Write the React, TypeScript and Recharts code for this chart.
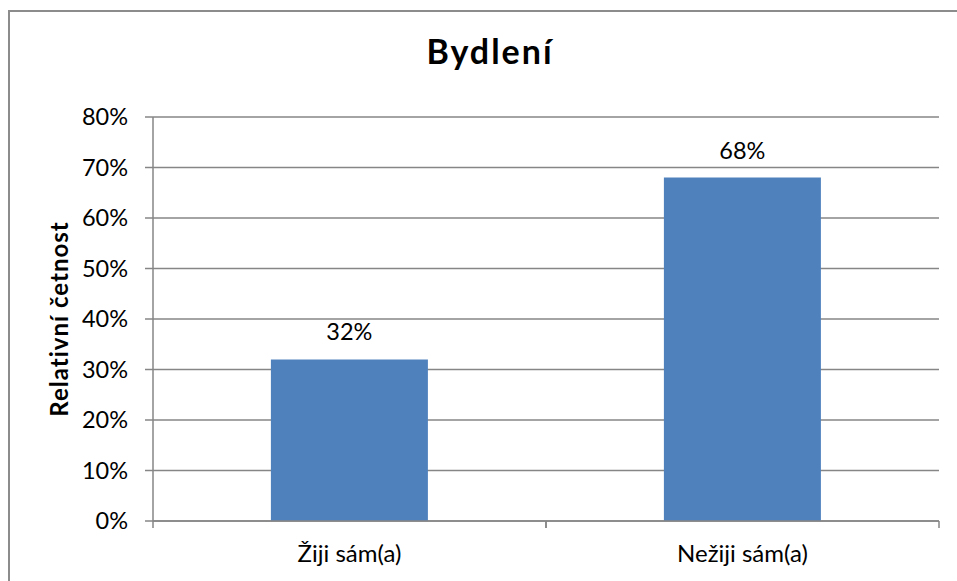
import React from "react";
import { BarChart, Bar, XAxis, YAxis, CartesianGrid, LabelList } from "recharts";

const categories = ["Žiji sám(a)", "Nežiji sám(a)"];
const shares = [0.32, 0.68];
const yTicks = [0, 0.1, 0.2, 0.3, 0.4, 0.5, 0.6, 0.7, 0.8];
const title = "Bydlení";
const yLabel = "Relativní četnost";

const data = categories.map((name, i) => ({ name, value: shares[i] }));

const W = 957;
const H = 581;
const MARGIN = { top: 117, right: 18, bottom: 0, left: 0 };
const YAXIS_W = 153;
const XAXIS_H = 60;
const HALF_BAND = (W - MARGIN.left - YAXIS_W - MARGIN.right) / categories.length / 2;
const AXIS_COLOR = "#868686";
const FONT = "Lato, 'Open Sans', sans-serif";

const pct = (v: number) => `${Math.round(v * 100)}%`;

const XTick = (props: any) => {
  const { x, y, payload } = props;
  return (
    <g>
      <line x1={x - HALF_BAND} x2={x - HALF_BAND} y1={y} y2={y + 7} stroke={AXIS_COLOR} strokeWidth={1.5} />
      <line x1={x + HALF_BAND} x2={x + HALF_BAND} y1={y} y2={y + 7} stroke={AXIS_COLOR} strokeWidth={1.5} />
      <text x={x} y={y + 41} textAnchor="middle" fontFamily={FONT} fontSize={24} fill="#000">
        {payload.value}
      </text>
    </g>
  );
};

const YLabel = (props: any) => {
  const vb = props.viewBox || {};
  const cx = (vb.x || 0) + 68;
  const cy = (vb.y || 0) + (vb.height || 0) / 2;
  return (
    <text
      x={cx}
      y={cy}
      transform={`rotate(-90 ${cx} ${cy})`}
      textAnchor="middle"
      fontFamily={FONT}
      fontWeight="bold"
      fontSize={24}
      letterSpacing={1}
      fill="#000"
    >
      {yLabel}
    </text>
  );
};

export default function App() {
  return (
    <div style={{ position: "absolute", left: 0, top: 0, width: W, height: H, overflow: "hidden", background: "#fff" }}>
      <div
        style={{
          position: "absolute",
          left: 8,
          top: 10,
          width: 1100,
          height: 1100,
          border: "2px solid #8c8c8c",
          boxSizing: "border-box",
        }}
      />
      <div
        style={{
          position: "absolute",
          left: 0,
          top: 34,
          width: 980,
          textAlign: "center",
          fontFamily: FONT,
          fontWeight: "bold",
          fontSize: 34,
          letterSpacing: 2,
          lineHeight: "34px",
          color: "#000",
        }}
      >
        {title}
      </div>
      <div style={{ position: "absolute", left: 0, top: 0 }}>
        <BarChart width={W} height={H} data={data} margin={MARGIN} barCategoryGap="30%">
          <CartesianGrid vertical={false} stroke={AXIS_COLOR} strokeWidth={1.5} />
          <XAxis
            dataKey="name"
            height={XAXIS_H}
            axisLine={{ stroke: AXIS_COLOR, strokeWidth: 1.5 }}
            tickLine={false}
            tickSize={0}
            tickMargin={0}
            tick={<XTick />}
            interval={0}
          />
          <YAxis
            width={YAXIS_W}
            domain={[0, 0.8]}
            ticks={yTicks}
            tickFormatter={pct}
            axisLine={{ stroke: AXIS_COLOR, strokeWidth: 1.5 }}
            tickLine={{ stroke: AXIS_COLOR, strokeWidth: 1.5 }}
            tickSize={8}
            tickMargin={17}
            tick={{ fontFamily: FONT, fontSize: 23.5, fill: "#000" }}
            label={<YLabel />}
            interval={0}
          />
          <Bar dataKey="value" fill="#4F81BD" isAnimationActive={false}>
            <LabelList
              dataKey="value"
              position="top"
              offset={19}
              formatter={(v: any) => pct(Number(v))}
              style={{ fontFamily: FONT, fontSize: 23.5, fill: "#000" }}
            />
          </Bar>
        </BarChart>
      </div>
    </div>
  );
}
